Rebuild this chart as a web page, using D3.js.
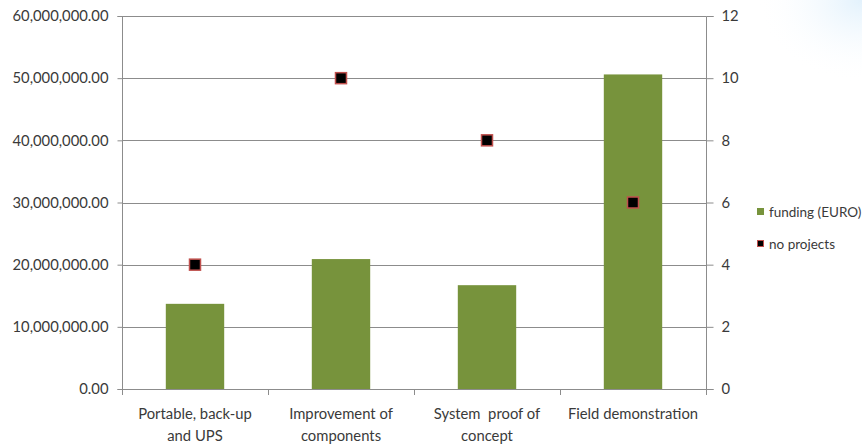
<!DOCTYPE html>
<html>
<head>
<meta charset="utf-8">
<script src="https://cdn.jsdelivr.net/npm/d3@7"></script>
<style>
  html, body { margin: 0; padding: 0; background: #fff; }
  svg { display: block; }
  text { font-family: Lato, "Open Sans", sans-serif; fill: #3a3a3a; }
</style>
</head>
<body>
<svg id="chart" width="862" height="447"></svg>
<script>
// Funding per programme area and number of projects
const categories = [
  ["Portable, back-up", "and UPS"],
  ["Improvement of", "components"],
  ["System  proof of", "concept"],
  ["Field demonstration"]
];
const funding = [13700000, 20900000, 16700000, 50600000];
const projects = [4, 10, 8, 6];
const leftTicks = [0, 10000000, 20000000, 30000000, 40000000, 50000000, 60000000];
const rightTicks = [0, 2, 4, 6, 8, 10, 12];
const seriesNames = ["funding (EURO)", "no projects"];

const barColor = "#77933c";
const markerFill = "#000000";
const markerStroke = "#c0504d";
const gridColor = "#8c8c8c";
const fontSize = 14.8;

const svg = d3.select("#chart");
const plot = { left: 122, right: 706, top: 16, bottom: 389 };

// faint bluish haze in the top right corner
const defs = svg.append("defs");
const rg = defs.append("radialGradient").attr("id", "haze")
  .attr("cx", 1).attr("cy", 0).attr("r", 0.75);
rg.append("stop").attr("offset", 0).attr("stop-color", "#dff0fc").attr("stop-opacity", 0.9);
rg.append("stop").attr("offset", 1).attr("stop-color", "#ffffff").attr("stop-opacity", 0);
svg.append("rect").attr("x", 720).attr("y", 0).attr("width", 142).attr("height", 110)
  .attr("fill", "url(#haze)");

const x = d3.scaleBand().domain(d3.range(categories.length))
  .range([plot.left, plot.right]).padding(0);
const yL = d3.scaleLinear().domain([0, 60000000]).range([plot.bottom, plot.top]);
const yR = d3.scaleLinear().domain([0, 12]).range([plot.bottom, plot.top]);

// horizontal gridlines
svg.append("g").selectAll("line").data(leftTicks).join("line")
  .attr("x1", plot.left).attr("x2", plot.right)
  .attr("y1", d => Math.round(yL(d)) + 0.5).attr("y2", d => Math.round(yL(d)) + 0.5)
  .attr("stroke", gridColor).attr("stroke-width", 1);

// bars
const barW = x.bandwidth() * 0.4;
svg.append("g").selectAll("rect").data(funding).join("rect")
  .attr("x", (d, i) => x(i) + (x.bandwidth() - barW) / 2)
  .attr("y", d => yL(d))
  .attr("width", barW)
  .attr("height", d => yL(0) - yL(d))
  .attr("fill", barColor);

// left axis
const axL = svg.append("g").attr("transform", `translate(${plot.left + 0.5},0)`)
  .call(d3.axisLeft(yL).tickValues(leftTicks).tickSize(5).tickPadding(9)
    .tickFormat(d3.format(",.2f")));
// right axis
const axR = svg.append("g").attr("transform", `translate(${plot.right + 0.5},0)`)
  .call(d3.axisRight(yR).tickValues(rightTicks).tickSize(7).tickPadding(8)
    .tickFormat(d3.format("d")));
// bottom axis with ticks at category boundaries
const bounds = d3.range(categories.length + 1).map(i => plot.left + i * x.step());
const axB = svg.append("g");
axB.append("line").attr("x1", plot.left).attr("x2", plot.right)
  .attr("y1", plot.bottom + 0.5).attr("y2", plot.bottom + 0.5).attr("stroke", gridColor);
axB.selectAll("line.tk").data(bounds).join("line").attr("class", "tk")
  .attr("x1", d => Math.round(d) + 0.5).attr("x2", d => Math.round(d) + 0.5)
  .attr("y1", plot.bottom).attr("y2", plot.bottom + 6).attr("stroke", gridColor);

[axL, axR].forEach(ax => {
  ax.select(".domain").attr("stroke", gridColor);
  ax.selectAll(".tick line").attr("stroke", gridColor);
  ax.selectAll(".tick text").attr("font-size", fontSize).attr("fill", "#3a3a3a")
    .style("font-family", "Lato, 'Open Sans', sans-serif");
});
axL.select(".domain").attr("d", `M-5,${plot.top + 0.5}H0V${plot.bottom + 0.5}H-5`);
axR.select(".domain").attr("d", `M7,${plot.top + 0.5}H0V${plot.bottom + 0.5}H7`);

// category labels
const lab = svg.append("g").selectAll("text").data(categories).join("text")
  .attr("x", (d, i) => x(i) + x.bandwidth() / 2)
  .attr("y", 419)
  .attr("text-anchor", "middle").attr("font-size", fontSize)
  .attr("xml:space", "preserve");
lab.selectAll("tspan").data(d => d).join("tspan")
  .attr("x", function () { return d3.select(this.parentNode).attr("x"); })
  .attr("dy", (d, i) => i === 0 ? 0 : 22)
  .text(d => d);

// project-count markers
const ms = 11;
svg.append("g").selectAll("rect").data(projects).join("rect")
  .attr("x", (d, i) => x(i) + x.bandwidth() / 2 - ms / 2)
  .attr("y", d => yR(d) - ms / 2)
  .attr("width", ms).attr("height", ms)
  .attr("fill", markerFill).attr("stroke", markerStroke).attr("stroke-width", 1.5);

// legend
const leg = svg.append("g").attr("transform", "translate(757,0)");
leg.append("rect").attr("x", 0).attr("y", 208).attr("width", 7).attr("height", 7).attr("fill", barColor);
leg.append("text").attr("x", 12).attr("y", 217).attr("font-size", 13.5).text(seriesNames[0]);
leg.append("rect").attr("x", 0.5).attr("y", 240.5).attr("width", 6).attr("height", 6)
  .attr("fill", markerFill).attr("stroke", markerStroke).attr("stroke-width", 1);
leg.append("text").attr("x", 12).attr("y", 249).attr("font-size", 13.5).text(seriesNames[1]);
</script>
</body>
</html>
